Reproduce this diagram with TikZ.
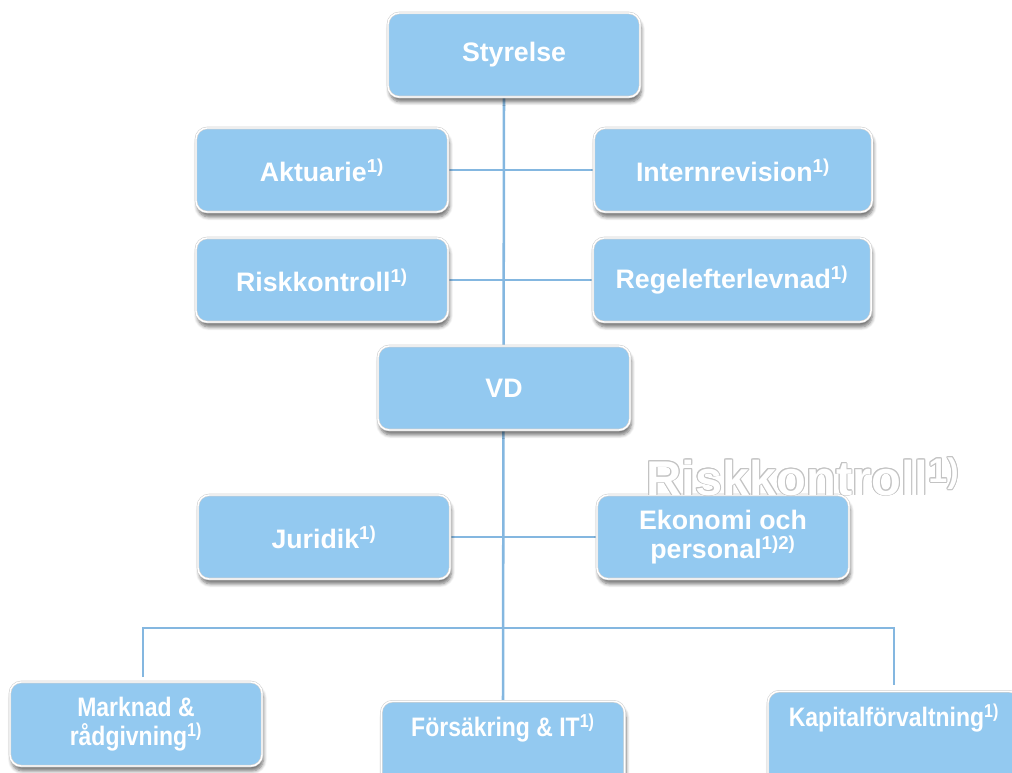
\documentclass[tikz,border=0pt]{standalone}
\usepackage{fontspec}
\setmainfont{Liberation Sans}
\newfontfamily\narrowfont[FakeStretch=0.86]{Liberation Sans}
\usetikzlibrary{shadows.blur,backgrounds}
\definecolor{boxblue}{RGB}{147,201,240}
\definecolor{lineblue}{RGB}{132,183,224}
\definecolor{rimgray}{RGB}{195,195,195}

\begin{document}
\begin{tikzpicture}[x=0.025cm,y=-0.025cm,
  unit/.style={draw=black!18, double=white, double distance=1pt, line width=0.4pt,
    fill=boxblue, rounded corners=8pt,
    minimum width=6.3cm, minimum height=2.1cm, text=white, align=center,
    font=\fontsize{19}{21}\selectfont\bfseries,
    blur shadow={shadow xshift=1pt, shadow yshift=-3.5pt, shadow blur steps=6,
      shadow blur radius=2.5pt, shadow opacity=55}},
  wide/.style={unit, minimum width=6.95cm},
  low/.style={unit, font=\narrowfont\fontsize{19}{21}\selectfont\bfseries},
  lowtext/.style={text=white, inner sep=0pt, anchor=base, font=\narrowfont\fontsize{19}{21}\selectfont\bfseries},
  ghost/.style={inner sep=0pt, anchor=base west, font=\fontsize{34.7}{40}\selectfont\bfseries},
  link/.style={draw=lineblue, line width=1.8pt}]
\useasboundingbox (0,0) rectangle (1012,773);
\clip (0,0) rectangle (1012,773);

\node[unit] (styrelse) at (514,55) {Styrelse};
\node[unit] (aktuarie) at (322,170) {Aktuarie\textsuperscript{1)}};
\node[wide] (internrev) at (733,170) {Internrevision\textsuperscript{1)}};
\node[unit] (risk) at (322,280) {Riskkontroll\textsuperscript{1)}};
\node[wide] (regel) at (732,280) {Regelefterlevnad\textsuperscript{1)}};
\node[unit] (vd) at (504,388) {VD};
\node[unit] (juridik) at (324,537) {Juridik\textsuperscript{1)}};
\node[unit] (ekonomi) at (723,537) {Ekonomi och\\personal\textsuperscript{1)2)}};
\node[low] (marknad) at (136,724) {Marknad \&\\rådgivning\textsuperscript{1)}};
\node[low, minimum width=6.08cm, minimum height=2.6cm, anchor=north] (fors) at (503,701) {};
\node[low, minimum height=2.6cm, anchor=north] (kapital) at (894,691) {};
\node[lowtext] (forstext) at ([yshift=-0.875cm]fors.north) {Försäkring \& IT\textsuperscript{1)}};
\node[lowtext] (kapitaltext) at ([yshift=-0.875cm]kapital.north) {Kapitalförvaltning\textsuperscript{1)}};

\foreach \a in {0,30,...,330}
  \node[ghost, text=rimgray] (rim-\a) at ([shift={(\a:0.7pt)}]646,495) {Riskkontroll\textsuperscript{1)}};
\node[ghost, text=white] (ghost) at (646,495) {Riskkontroll\textsuperscript{1)}};

\begin{scope}[on background layer]
\coordinate (spine) at (styrelse.south -| vd);
\coordinate (barl) at (143,628);
\coordinate (barr) at (894,628);
\coordinate (dropl) at (143,677);
\coordinate (dropr) at (894,685);
\draw[link] (spine) -- (fors.north);
\draw[link] (aktuarie) -- (aktuarie -| vd);
\draw[link] (internrev) -- (internrev -| vd);
\draw[link] (risk) -- (risk -| vd);
\draw[link] (regel) -- (regel -| vd);
\draw[link] (juridik) -- (juridik -| vd);
\draw[link] (ekonomi) -- (ekonomi -| vd);
\draw[link] (dropl) -- (barl) -- (barr) -- (dropr);
\end{scope}
\end{tikzpicture}
\end{document}
